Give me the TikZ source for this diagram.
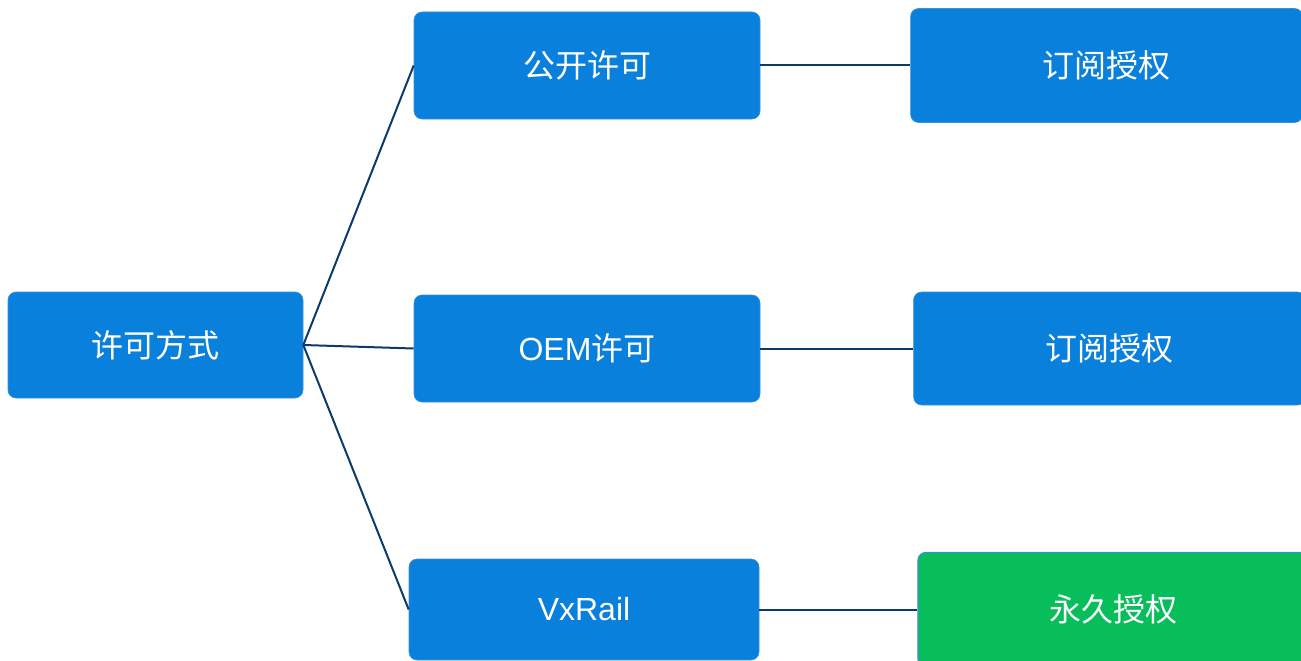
\documentclass[tikz,border=0pt]{standalone}
\usepackage{fontspec}
\setmainfont{Liberation Sans}
\newfontfamily\cjk{Noto Sans CJK SC}
\usepackage{tikz}
\usetikzlibrary{positioning}
\usepackage{xcolor}
\definecolor{BoxBlue}{HTML}{0880DC}
\definecolor{EdgeBlue}{HTML}{3A8FDA}
\definecolor{LinkNavy}{HTML}{0B3A6B}
\definecolor{PermGreen}{HTML}{08BE5A}
\tikzset{%
  license_block/.style={%
    rectangle,%
    rounded corners=8pt,%
    fill=BoxBlue,%
    draw=EdgeBlue,%
    line width=0.6pt,%
    text=white,%
    font={\fontsize{32}{38}\selectfont},%
    align=center,%
    inner sep=0pt,%
  },
  perm_block/.style={%
    license_block,%
    fill=PermGreen,%
    draw=EdgeBlue,%
    line width=1.2pt,%
  },
  link/.style={%
    color=LinkNavy,%
    line width=2pt,%
    line join=round,%
  },
}
\begin{document}
\begin{tikzpicture}[x=1pt, y=-1pt]

    \useasboundingbox (0,0) rectangle (1301,661);

    \node [license_block, minimum width=295, minimum height=106]
      (Method) at (155.5,345) {\cjk 许可方式};
    \node [license_block, minimum width=346, minimum height=107]
      (Public) at (587,65.5) {\cjk 公开许可};
    \node [license_block, minimum width=346, minimum height=107]
      (OEM) at (587,348.5) {OEM{\cjk 许可}};
    \node [license_block, minimum width=350, minimum height=101]
      (VxRail) at (584,609.5) {VxRail};

    \node [license_block, minimum width=392, minimum height=114,
      right = 150 of Public] (SubA) {\cjk 订阅授权};
    \node [license_block, minimum width=392, minimum height=113,
      right = 153 of OEM] (SubB) {\cjk 订阅授权};
    \node [perm_block, minimum width=392, minimum height=114,
      right = 158 of VxRail] (Perpetual) {\cjk 永久授权};

    \draw [link]
      (Method.east)
      --
      (Public.west);
    \draw [link]
      (Method.east)
      --
      (OEM.west);
    \draw [link]
      (Method.east)
      --
      (VxRail.west);
    \draw [link]
      (Public.east)
      --
      (SubA.west);
    \draw [link]
      (OEM.east)
      --
      (SubB.west);
    \draw [link]
      (VxRail.east)
      --
      (Perpetual.west);
  \end{tikzpicture}
\end{document}
